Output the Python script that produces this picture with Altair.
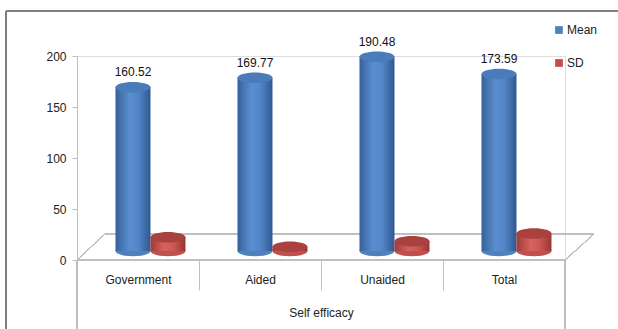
import altair as alt
import pandas as pd

categories = ["Government", "Aided", "Unaided", "Total"]
mean_values = [160.52, 169.77, 190.48, 173.59]
sd_values = [13.4, 4.1, 9.6, 17.2]
series_names = ["Mean", "SD"]
y_ticks = [0, 50, 100, 150, 200]
x_title = "Self efficacy"

rows = []
for c, m, s in zip(categories, mean_values, sd_values):
    rows.append({"category": c, "series": series_names[0], "value": m})
    rows.append({"category": c, "series": series_names[1], "value": s})
df = pd.DataFrame(rows)

FONT = "Liberation Sans"
FS = 12
W, H = 488, 204
LIFT = -9
BW = 35
BLUE = "#4F81BD"
RED = "#C0504D"
GRID = "#BFBFBF"
ELLIPSE = "M -1 0 A 1 0.3 0 1 1 1 0 A 1 0.3 0 1 1 -1 0 Z"

base = alt.Chart(df)

xenc = alt.X(
    "category:N", sort=categories,
    scale=alt.Scale(paddingInner=0, paddingOuter=0),
    axis=alt.Axis(title=x_title, labelAngle=0, domain=False, ticks=True,
                  tickBand="extent", tickSize=30, tickColor=GRID, tickWidth=1,
                  labelPadding=-16, labelFontSize=FS, labelColor="#222",
                  labelFont=FONT, titleFont=FONT, titleFontSize=FS,
                  titleFontWeight="normal", titleColor="#222", titlePadding=17),
)
xoff = alt.XOffset("series:N", sort=series_names,
                   scale=alt.Scale(paddingOuter=0.743, paddingInner=0, align=0.74))
yenc = alt.Y("value:Q", scale=alt.Scale(domain=[0, 200], nice=False),
             axis=alt.Axis(values=y_ticks, title=None, grid=False, domainColor=GRID,
                           tickColor=GRID, tickSize=5, labelFontSize=FS,
                           labelColor="#222", labelFont=FONT, labelPadding=6))

def grad(stops):
    return alt.Gradient(gradient="linear", x1=0, x2=1, y1=0, y2=0,
                        stops=[alt.GradientStop(offset=o, color=c) for o, c in stops])

blue_grad = grad([(0, "#35619A"), (0.4, "#5B8ED0"), (0.65, "#5386C8"), (1, "#2E5890")])
red_grad = grad([(0, "#9E3C39"), (0.4, "#D6625E"), (0.65, "#CD5853"), (1, "#983633")])

# decorative frame and floor
frame_top = alt.Chart(df).mark_rule(color="#7F7F7F", strokeWidth=2).encode(
    x=alt.value(-71), x2=alt.value(545), y=alt.value(-45))
frame_left = alt.Chart(df).mark_rule(color="#7F7F7F", strokeWidth=2).encode(
    x=alt.value(-71), y=alt.value(-45), y2=alt.value(275))
floor_front = alt.Chart(df).mark_rule(color=GRID).encode(
    x=alt.value(0), x2=alt.value(W), y=alt.value(H))
floor_back = alt.Chart(df).mark_rule(color=GRID).encode(
    x=alt.value(28), x2=alt.value(W + 29), y=alt.value(H - 26))
floor_l = alt.Chart(df).mark_rule(color=GRID).encode(
    x=alt.value(0), x2=alt.value(28), y=alt.value(H), y2=alt.value(H - 26))
floor_r = alt.Chart(df).mark_rule(color=GRID).encode(
    x=alt.value(W), x2=alt.value(W + 29), y=alt.value(H), y2=alt.value(H - 26))
outer_l = alt.Chart(df).mark_rule(color=GRID).encode(
    x=alt.value(0), y=alt.value(H), y2=alt.value(H + 70))
outer_r = alt.Chart(df).mark_rule(color=GRID).encode(
    x=alt.value(W), y=alt.value(H), y2=alt.value(H + 70))

bottom = base.mark_point(shape=ELLIPSE, filled=True, size=BW * BW, opacity=1,
                         yOffset=LIFT).encode(
    x=xenc, xOffset=xoff, y=alt.Y("zero:Q", scale=alt.Scale(domain=[0, 200], nice=False)),
    color=alt.Color("series:N", scale=alt.Scale(domain=series_names, range=[BLUE, RED]),
                    legend=alt.Legend(title=None, orient="none", legendX=476, legendY=-32,
                                      symbolType="square", symbolSize=60,
                                      symbolStrokeWidth=0, labelFontSize=FS,
                                      labelFont=FONT, labelColor="#222",
                                      rowPadding=21, labelOffset=2)),
).transform_calculate(zero="0")

def bars(name, g):
    return base.transform_filter(alt.datum.series == name).mark_bar(
        width=BW, yOffset=LIFT, y2Offset=LIFT, color=g).encode(
        x=xenc, xOffset=xoff, y=yenc, y2=alt.datum(0))

def tops(name, col):
    return base.transform_filter(alt.datum.series == name).mark_point(
        shape=ELLIPSE, filled=True, size=BW * BW, opacity=1, yOffset=LIFT,
        color=col).encode(x=xenc, xOffset=xoff, y=yenc)

labels = base.transform_filter(alt.datum.series == series_names[0]).mark_text(
    yOffset=LIFT, dy=-15, fontSize=FS, font=FONT, color="#111", baseline="middle").encode(
    x=xenc, xOffset=xoff, y=yenc, text=alt.Text("value:Q", format=".2f"))

chart = alt.layer(
    frame_top, frame_left, floor_back, floor_l, floor_r, floor_front, outer_l, outer_r,
    bottom, bars("Mean", blue_grad), bars("SD", red_grad),
    tops("Mean", "#4A7CBC"), tops("SD", "#A9413E"), labels,
).properties(
    width=W, height=H,
    autosize=alt.AutoSizeParams(type="none"),
    padding={"left": 77, "top": 56, "right": 53, "bottom": 69},
).configure_view(stroke=None).configure(background="white")

chart.save("out.html", embed_options={"renderer": "svg", "actions": False})
